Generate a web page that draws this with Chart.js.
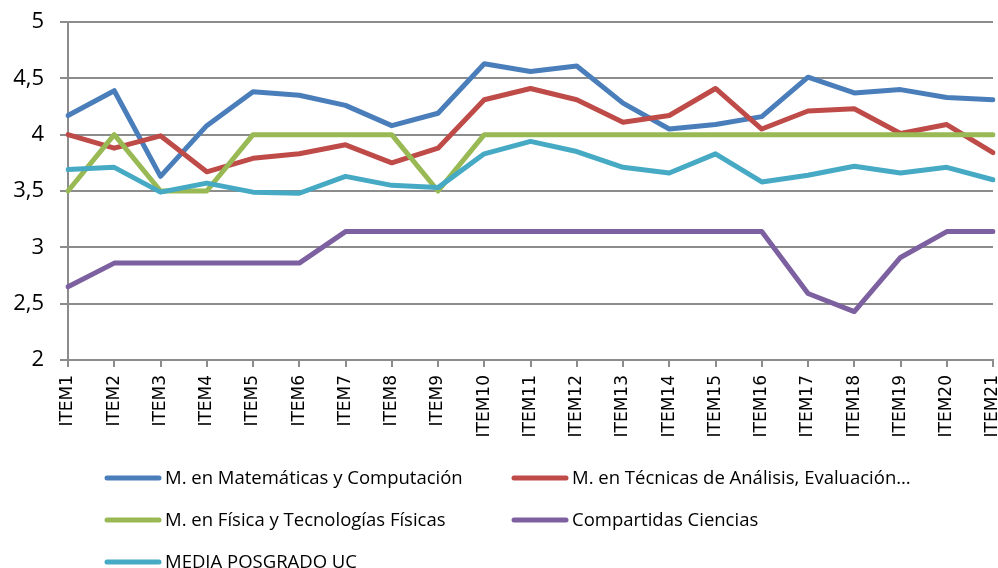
<!DOCTYPE html>
<html>
<head>
<meta charset="utf-8">
<script src="https://cdn.jsdelivr.net/npm/chart.js@4.4.1/dist/chart.umd.min.js"></script>
<style>
  body { margin: 0; background: #fff; }
  canvas { display: block; }
</style>
</head>
<body>
<canvas id="chartContainer" width="998" height="568"></canvas>
<script>
// categories
var items = ["ITEM1", "ITEM2", "ITEM3", "ITEM4", "ITEM5", "ITEM6", "ITEM7",
  "ITEM8", "ITEM9", "ITEM10", "ITEM11", "ITEM12", "ITEM13", "ITEM14",
  "ITEM15", "ITEM16", "ITEM17", "ITEM18", "ITEM19", "ITEM20", "ITEM21"];

// series names
var seriesNames = [
  "M. en Matemáticas y Computación",
  "M. en Técnicas de Análisis, Evaluación…",
  "M. en Física y Tecnologías Físicas",
  "Compartidas Ciencias",
  "MEDIA POSGRADO UC"
];

// series values
var matematicas = [4.17, 4.39, 3.63, 4.08, 4.38, 4.35, 4.26, 4.08, 4.19, 4.63, 4.56,
  4.61, 4.28, 4.05, 4.09, 4.16, 4.51, 4.37, 4.40, 4.33, 4.31];
var tecnicas = [4.00, 3.88, 3.99, 3.67, 3.79, 3.83, 3.91, 3.75, 3.88, 4.31, 4.41,
  4.31, 4.11, 4.17, 4.41, 4.05, 4.21, 4.23, 4.01, 4.09, 3.84];
var fisica = [3.5, 4, 3.5, 3.5, 4, 4, 4, 4, 3.5, 4, 4,
  4, 4, 4, 4, 4, 4, 4, 4, 4, 4];
var compartidas = [2.65, 2.86, 2.86, 2.86, 2.86, 2.86, 3.14, 3.14, 3.14, 3.14, 3.14,
  3.14, 3.14, 3.14, 3.14, 3.14, 2.59, 2.43, 2.91, 3.14, 3.14];
var mediaUC = [3.69, 3.71, 3.49, 3.57, 3.49, 3.48, 3.63, 3.55, 3.53, 3.83, 3.94,
  3.85, 3.71, 3.66, 3.83, 3.58, 3.64, 3.72, 3.66, 3.71, 3.60];

// y axis
var yMin = 2;
var yMax = 5;
var yStep = 0.5;

var colors = ["#4a7ebb", "#be4b48", "#98b954", "#7d60a0", "#46aac5"];
var gridColor = "#8c8c8c";

// legend drawn in two columns under the axis, like the original
var gridLegend = {
  id: 'gridLegend',
  afterDraw: function (chart) {
    var ctx = chart.ctx;
    var sets = chart.data.datasets;
    ctx.save();
    ctx.font = '18.5px "Open Sans"';
    ctx.textBaseline = 'middle';
    ctx.textAlign = 'left';
    ctx.fillStyle = '#000';
    ctx.lineCap = 'round';
    for (var i = 0; i < sets.length; i++) {
      var x = 107 + (i % 2) * 407;
      var y = 478 + Math.floor(i / 2) * 42;
      ctx.strokeStyle = sets[i].borderColor;
      ctx.lineWidth = 5;
      ctx.beginPath();
      ctx.moveTo(x, y);
      ctx.lineTo(x + 52, y);
      ctx.stroke();
      ctx.fillText(sets[i].label, x + 58, y + 1);
    }
    ctx.restore();
  }
};

window.onload = function () {
  var ctx = document.getElementById('chartContainer').getContext('2d');
  var allData = [matematicas, tecnicas, fisica, compartidas, mediaUC];

  var datasets = [];
  for (var i = 0; i < allData.length; i++) {
    datasets.push({
      label: seriesNames[i],
      data: allData[i],
      borderColor: colors[i],
      backgroundColor: colors[i],
      borderWidth: 5,
      borderJoinStyle: 'round',
      borderCapStyle: 'round',
      pointRadius: 0,
      tension: 0,
      fill: false,
      order: allData.length - i   // later series on top, as in Excel
    });
  }

  new Chart(ctx, {
    type: 'line',
    data: { labels: items, datasets: datasets },
    plugins: [gridLegend],
    options: {
      responsive: false,
      animation: false,
      devicePixelRatio: 1,
      layout: { padding: { top: 22, right: 5, bottom: 113, left: 0 } },
      plugins: {
        legend: { display: false },
        tooltip: { enabled: false }
      },
      scales: {
        x: {
          offset: false,
          grid: { display: true, drawOnChartArea: false, drawTicks: true, tickLength: 7,
                  color: gridColor, lineWidth: 2 },
          border: { display: true, color: gridColor, width: 2 },
          ticks: {
            minRotation: 90, maxRotation: 90, autoSkip: false, padding: 8,
            color: '#000', font: { family: '"DejaVu Sans"', size: 17 }
          },
          afterFit: function (scale) {
            scale.height = 95;
            scale.paddingLeft = 0;
            scale.paddingRight = 0;
          }
        },
        y: {
          min: yMin, max: yMax,
          grid: { color: gridColor, lineWidth: 2, drawTicks: true, tickLength: 8 },
          border: { display: true, color: gridColor, width: 2 },
          ticks: {
            stepSize: yStep, padding: 16, color: '#000',
            font: { family: '"Open Sans"', size: 22 },
            callback: function (v) { return String(v).replace('.', ','); }
          },
          afterFit: function (scale) {
            scale.width = 68;
            scale.paddingTop = 0;
            scale.paddingBottom = 0;
          }
        }
      }
    }
  });
};
</script>
</body>
</html>
